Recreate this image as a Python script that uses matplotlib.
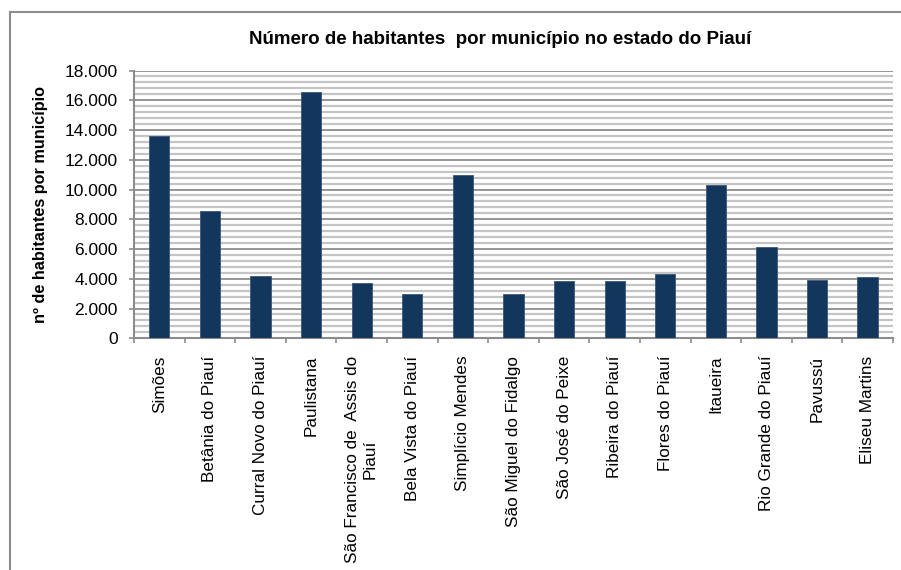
import numpy as np
import matplotlib.pyplot as plt
from matplotlib.ticker import MultipleLocator, FuncFormatter
from matplotlib.lines import Line2D

plt.rcParams['font.family'] = ['Liberation Sans', 'DejaVu Sans']

# municípios e população
municipios = ['Simões', 'Betânia do Piauí', 'Curral Novo do Piauí', 'Paulistana',
              'São Francisco de  Assis do\nPiauí', 'Bela Vista do Piauí',
              'Simplício Mendes', 'São Miguel do Fidalgo', 'São José do Peixe',
              'Ribeira do Piauí', 'Flores do Piauí', 'Itaueira',
              'Rio Grande do Piauí', 'Pavussú', 'Eliseu Martins']
habitantes = [13600, 8590, 4190, 16560, 3740, 2980, 10960, 2980, 3850,
              3850, 4320, 10310, 6120, 3940, 4120]

fig = plt.figure(figsize=(9.01, 5.70), dpi=100)
ax = fig.add_axes([0.1487, 0.4065, 0.8423, 0.4698])

x = np.arange(len(municipios))
ax.bar(x, habitantes, width=0.4, color='#12365C', edgecolor='#3A5878',
       linewidth=0.6, zorder=3)

ax.set_xlim(-0.5, len(municipios) - 0.5)
ax.set_ylim(0, 18000)

# linhas de grade principais e secundárias
ax.yaxis.set_major_locator(MultipleLocator(2000))
ax.yaxis.set_minor_locator(MultipleLocator(400))
ax.grid(which='major', axis='y', color='#8C8C8C', linewidth=1.3, zorder=1)
ax.grid(which='minor', axis='y', color='#C4C4C4', linewidth=1.6, zorder=0)
ax.yaxis.set_major_formatter(FuncFormatter(lambda v, p: f'{int(v):,}'.replace(',', '.')))

ax.set_xticks(x)
ax.set_xticklabels(municipios, rotation=90, fontsize=12.3, va='top',
                   ha='center', multialignment='center')
ax.set_xticks(np.arange(-0.5, len(municipios)), minor=True)
ax.tick_params(axis='x', which='major', length=0, pad=12.5)
ax.tick_params(axis='x', which='minor', length=3.6, width=1.2, color='#8C8C8C',
               direction='out')
ax.tick_params(axis='y', which='major', length=3.6, width=1.2, color='#8C8C8C',
               labelsize=12.5, pad=8)
ax.tick_params(axis='y', which='minor', length=0)

for lado in ['top', 'right']:
    ax.spines[lado].set_visible(False)
for lado in ['left', 'bottom']:
    ax.spines[lado].set_color('#8C8C8C')
    ax.spines[lado].set_linewidth(1.5)

ax.set_ylabel('nº de habitantes por município', fontsize=11.7,
              fontweight='bold', labelpad=12)
fig.text(0.555, 1 - 40 / 570, 'Número de habitantes  por município no estado do Piauí',
         ha='center', va='center', fontsize=13.5, fontweight='bold')

# moldura externa do gráfico
fig.add_artist(Line2D([10 / 901, 10 / 901], [0, 1 - 12 / 570], transform=fig.transFigure,
                      color='#8C8C8C', linewidth=1.5))
fig.add_artist(Line2D([10 / 901, 1], [1 - 12 / 570, 1 - 12 / 570], transform=fig.transFigure,
                      color='#8C8C8C', linewidth=1.5))

plt.savefig('out.png', dpi=100)
